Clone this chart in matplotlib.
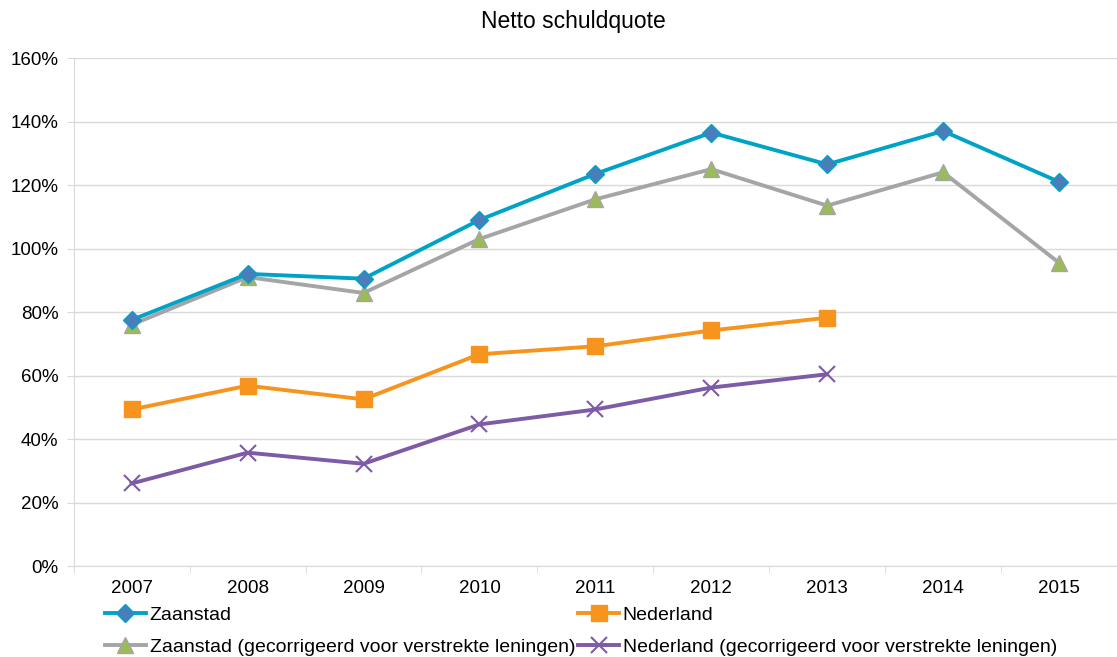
import matplotlib
matplotlib.use("Agg")
import matplotlib.pyplot as plt
from matplotlib.ticker import PercentFormatter

plt.rcParams['font.family'] = ['Liberation Sans', 'DejaVu Sans']

# data
years = ['2007', '2008', '2009', '2010', '2011', '2012', '2013', '2014', '2015']
zaanstad = [77.5, 92.0, 90.5, 109.0, 123.5, 136.5, 126.5, 137.0, 121.0]
zaanstad_corr = [76.0, 91.0, 86.0, 103.0, 115.5, 125.0, 113.5, 124.0, 95.5]
nederland = [49.3, 56.8, 52.5, 66.7, 69.2, 74.2, 78.2]
nederland_corr = [26.0, 35.7, 32.2, 44.6, 49.3, 56.2, 60.4]

x_all = list(range(len(years)))

fig = plt.figure(figsize=(11.17, 6.57), dpi=100)
ax = fig.add_axes([0.066, 0.1385, 0.934, 0.7732])

# order matters: legend fills column by column
ax.plot(x_all, zaanstad, color='#00A3C8', lw=2.8, marker='D', ms=9,
        mfc='#4A7EBB', mec='#00A3C8', mew=1, label='Zaanstad', zorder=4)
ax.plot(x_all, zaanstad_corr, color='#A5A5A5', lw=2.8, marker='^', ms=11,
        mfc='#9BBB59', mec='#A5A5A5', mew=1,
        label='Zaanstad (gecorrigeerd voor verstrekte leningen)', zorder=3)
ax.plot(x_all[:len(nederland)], nederland, color='#F7941D', lw=2.8, marker='s', ms=11,
        mfc='#F7941D', mec='#F7941D', label='Nederland', zorder=4)
ax.plot(x_all[:len(nederland_corr)], nederland_corr, color='#7D5BA6', lw=2.8, marker='x', ms=11,
        mew=1.5, mec='#7D5BA6',
        label='Nederland (gecorrigeerd voor verstrekte leningen)', zorder=4)

ax.set_ylim(0, 160)
ax.set_yticks(range(0, 161, 20))
ax.yaxis.set_major_formatter(PercentFormatter(decimals=0))
ax.set_xlim(-0.5, 8.396)
ax.set_xticks(x_all)
ax.set_xticklabels(years)
ax.set_xticks([i + 0.5 for i in range(-1, len(years))], minor=True)

ax.grid(axis='y', color='#D9D9D9', lw=1)
ax.set_axisbelow(True)
for s in ['top', 'right']:
    ax.spines[s].set_visible(False)
ax.spines['left'].set_color('#D9D9D9')
ax.spines['bottom'].set_color('#D9D9D9')
ax.tick_params(axis='y', length=5, color='#D9D9D9', labelsize=13.5, pad=6)
ax.tick_params(axis='x', which='major', length=0, labelsize=13.5, pad=10)
ax.tick_params(axis='x', which='minor', length=5, color='#D9D9D9')

fig.text(0.513, 0.967, 'Netto schuldquote', ha='center', va='center', fontsize=16.5)

fig.legend(loc='lower left', bbox_to_anchor=(0.087, -0.01), ncol=2, frameon=False,
           fontsize=14, handlelength=2.1, handletextpad=0.2, columnspacing=0.15,
           labelspacing=0.75, borderaxespad=0)

fig.savefig('out.png', dpi=100)
